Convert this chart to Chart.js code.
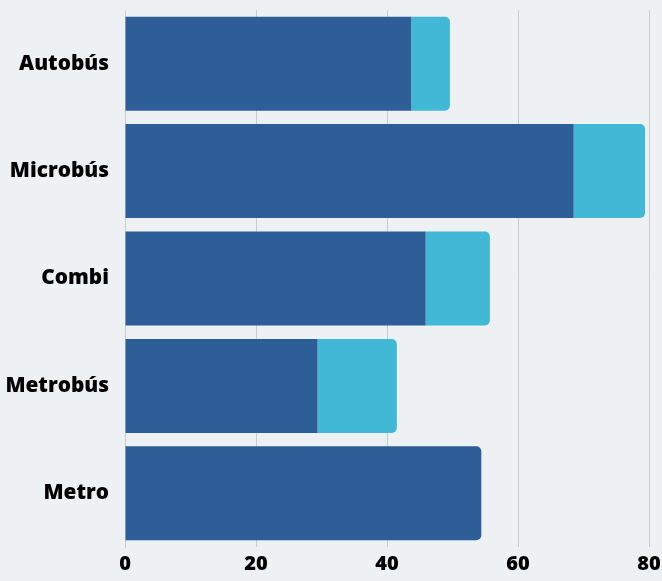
<!DOCTYPE html>
<html>
<head>
<meta charset="utf-8">
<script src="https://cdn.jsdelivr.net/npm/chart.js@4"></script>
<style>
  html, body { margin: 0; padding: 0; background: #edf1f3; }
  #wrap { width: 662px; height: 581px; }
</style>
</head>
<body>
<div id="wrap"><canvas id="grafico"></canvas></div>
<script>
const categorias = ['Autobús', 'Microbús', 'Combi', 'Metrobús', 'Metro'];
const serieBase = [43.7, 68.5, 45.9, 29.4, 54.4];
const serieExtra = [5.9, 10.9, 9.8, 12.1, 0];
const ticksX = [0, 20, 40, 60, 80];

const fuenteX = { family: "'Open Sans', 'Noto Sans', sans-serif", size: 20, weight: 800 };
const fuenteY = { family: "'Open Sans', 'Noto Sans', sans-serif", size: 20.8, weight: 800 };

new Chart(document.getElementById('grafico'), {
  type: 'bar',
  data: {
    labels: categorias,
    datasets: [
      {
        data: serieBase,
        backgroundColor: '#2d5e97',
        borderRadius: 5,
        barPercentage: 0.875,
        categoryPercentage: 1
      },
      {
        data: serieExtra,
        backgroundColor: '#42b8d7',
        borderRadius: 5,
        barPercentage: 0.875,
        categoryPercentage: 1
      }
    ]
  },
  options: {
    indexAxis: 'y',
    responsive: true,
    maintainAspectRatio: false,
    animation: false,
    layout: { padding: { top: 10, right: 13, bottom: 0, left: 0 } },
    plugins: {
      legend: { display: false },
      tooltip: { enabled: false }
    },
    scales: {
      x: {
        stacked: true,
        min: ticksX[0],
        max: ticksX[ticksX.length - 1],
        afterBuildTicks: (eixo) => { eixo.ticks = ticksX.map(v => ({ value: v })); },
        afterFit: (eixo) => { eixo.height = 34; eixo.paddingLeft = 0; eixo.paddingRight = 0; },
        grid: { color: '#c9cccf', drawTicks: false },
        border: { display: false },
        ticks: { color: '#000', font: fuenteX, padding: 5 }
      },
      y: {
        stacked: true,
        afterFit: (eixo) => { eixo.width = 125; eixo.paddingTop = 0; eixo.paddingBottom = 0; },
        grid: { display: false },
        border: { display: true, color: '#c9cccf' },
        ticks: { color: '#000', font: fuenteY, padding: 8 }
      }
    }
  }
});
</script>
</body>
</html>
